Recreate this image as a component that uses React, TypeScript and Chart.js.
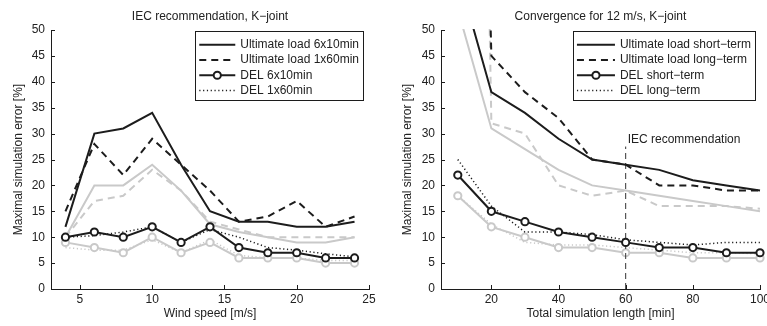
import React, { useEffect, useRef } from "react";
import { Chart, registerables } from "chart.js";

Chart.register(...registerables);

// ---------- Left chart data ----------
const leftTitle = "IEC recommendation, K\u2212joint";
const leftXLabel = "Wind speed [m/s]";
const windSpeed = [4, 6, 8, 10, 12, 14, 16, 18, 20, 22, 24];
const leftXTicks = [5, 10, 15, 20, 25];
const ultLoad6x10 = [12, 30, 31, 34, 24, 15, 13, 13, 12, 12, 13];
const ultLoad1x60 = [15, 28, 22, 29, 24, 19, 13, 14, 17, 12, 14];
const del6x10 = [10, 11, 10, 12, 9, 12, 8, 7, 7, 6, 6];
const del1x60 = [10, 10.3, 11, 12, 9, 11.5, 10, 8, 7.5, 6.8, 6.2];
const ultLoad6x10Grey = [10, 20, 20, 24, 19, 12.5, 11, 10, 9, 9, 10];
const ultLoad1x60Grey = [10, 17, 18, 23, 19, 13, 11.5, 10, 10, 10, 10];
const del6x10Grey = [9, 8, 7, 10, 7, 9, 6, 6, 6, 5, 5];
const del1x60Grey = [8, 7.5, 7.5, 9.5, 7, 9.5, 6.5, 6, 6, 5.5, 5.5];
const leftLabels = ["Ultimate load 6x10min", "Ultimate load 1x60min", "DEL 6x10min", "DEL 1x60min"];

// ---------- Right chart data ----------
const rightTitle = "Convergence for 12 m/s, K\u2212joint";
const rightXLabel = "Total simulation length [min]";
const simLength = [10, 20, 30, 40, 50, 60, 70, 80, 90, 100];
const rightXTicks = [20, 40, 60, 80, 100];
const ultShort = [61, 38, 34, 29, 25, 24, 23, 21, 20, 19];
const ultLong = [300, 45, 38, 33, 25, 24, 20, 20, 19, 19];
const delShort = [22, 15, 13, 11, 10, 9, 8, 8, 7, 7];
const delLong = [25, 16, 11, 11, 10.5, 9.5, 9, 8.5, 9, 9];
const ultShortGrey = [54, 31, 27, 23, 20, 19, 18, 17, 16, 15];
const ultLongGrey = [400, 32, 30, 20, 18, 19, 16, 16, 16, 15.5];
const delShortGrey = [18, 12, 10, 8, 8, 7, 7, 6, 6, 6];
const delLongGrey = [18, 12.5, 9, 8.5, 8.5, 8, 7.5, 7, 7, 6.8];
const rightLabels = ["Ultimate load short\u2212term", "Ultimate load long\u2212term", "DEL short\u2212term", "DEL long\u2212term"];
const iecX = 60;
const iecLineTop = 27.5;
const iecText = "IEC recommendation";
const iecTextY = 28.8;

const yLabel = "Maximal simulation error [%]";
const yTicks = [0, 5, 10, 15, 20, 25, 30, 35, 40, 45, 50];

const FONT = "'Liberation Sans', Arial, Helvetica, sans-serif";
const BLACK = "#1c1c1c";
const GREY = "#c9c9c9";
const TEXT = "#222222";

function pts(xs: number[], ys: number[]) {
  return xs.map((x, i) => ({ x, y: ys[i] }));
}

function styled(label: string, data: any[], color: string, kind: string) {
  const base: any = {
    label,
    data,
    borderColor: color,
    backgroundColor: color,
    borderWidth: 2,
    pointRadius: 0,
    tension: 0,
    clip: { left: 6, right: 8, top: 1, bottom: 6 },
  };
  if (kind === "dash") base.borderDash = [7, 5];
  if (kind === "dot") {
    base.borderDash = [1.2, 2.6];
    base.borderWidth = 1.5;
  }
  if (kind === "circle") {
    base.pointRadius = 3.6;
    base.pointBorderWidth = 2;
    base.pointBackgroundColor = "#ffffff";
    base.pointBorderColor = color;
  }
  return base;
}

const decorPlugin = {
  id: "decor",
  afterDraw(chart: any) {
    const o = chart.options.plugins.decor;
    const ctx = chart.ctx;
    const ca = chart.chartArea;
    const xs = chart.scales.x;
    const ys = chart.scales.y;
    ctx.save();
    // inward tick marks
    ctx.strokeStyle = BLACK;
    ctx.lineWidth = 1;
    ctx.beginPath();
    xs.ticks.forEach((t: any) => {
      const px = Math.round(xs.getPixelForValue(t.value)) + 0.5;
      ctx.moveTo(px, ca.bottom);
      ctx.lineTo(px, ca.bottom - 4);
    });
    ys.ticks.forEach((t: any) => {
      const py = Math.round(ys.getPixelForValue(t.value)) + 0.5;
      ctx.moveTo(ca.left, py);
      ctx.lineTo(ca.left + 4, py);
    });
    ctx.stroke();

    // title
    ctx.fillStyle = TEXT;
    ctx.font = `12px ${FONT}`;
    ctx.textAlign = "center";
    ctx.textBaseline = "middle";
    ctx.fillText(o.title, (ca.left + ca.right) / 2, 17);

    // annotation text
    if (o.annoText) {
      ctx.textAlign = "left";
      ctx.fillText(o.annoText, xs.getPixelForValue(o.annoX) + 2, ys.getPixelForValue(o.annoY));
    }

    // legend
    const n = o.legendCount;
    const ds = chart.data.datasets.slice(0, n);
    ctx.font = `12px ${FONT}`;
    let maxW = 0;
    ds.forEach((d: any) => {
      maxW = Math.max(maxW, ctx.measureText(d.label).width);
    });
    const sampleLen = o.sampleLen;
    const boxW = 4 + sampleLen + 5 + maxW + 4;
    const boxRight = ca.right - o.boxInset;
    const boxLeft = boxRight - boxW;
    const boxTop = ca.top + 1;
    const rowH = 15.3;
    const boxH = 8 + rowH * n;
    ctx.fillStyle = "#ffffff";
    ctx.fillRect(boxLeft, boxTop, boxW, boxH);
    ctx.strokeStyle = BLACK;
    ctx.lineWidth = 1;
    ctx.setLineDash([]);
    ctx.strokeRect(Math.round(boxLeft) + 0.5, Math.round(boxTop) + 0.5, Math.round(boxW), Math.round(boxH));
    ds.forEach((d: any, i: number) => {
      const y = boxTop + 6 + rowH * (i + 0.5);
      const x1 = boxLeft + 4;
      const x2 = x1 + sampleLen;
      ctx.strokeStyle = d.borderColor;
      ctx.lineWidth = d.borderWidth;
      ctx.setLineDash(d.borderDash || []);
      ctx.beginPath();
      ctx.moveTo(x1, y);
      ctx.lineTo(x2, y);
      ctx.stroke();
      ctx.setLineDash([]);
      if (d.pointRadius > 0) {
        ctx.beginPath();
        ctx.arc((x1 + x2) / 2, y, d.pointRadius, 0, Math.PI * 2);
        ctx.fillStyle = "#ffffff";
        ctx.fill();
        ctx.lineWidth = d.pointBorderWidth;
        ctx.strokeStyle = d.pointBorderColor;
        ctx.stroke();
      }
      ctx.fillStyle = TEXT;
      ctx.textAlign = "left";
      ctx.textBaseline = "middle";
      ctx.fillText(d.label, x2 + 5, y);
    });
    ctx.restore();
  },
};

function makeOptions(p: any) {
  return {
    responsive: false,
    maintainAspectRatio: false,
    animation: false as const,
    devicePixelRatio: 1,
    layout: { padding: { top: 30, right: p.padRight, left: 0, bottom: 0 } },
    plugins: {
      legend: { display: false },
      title: { display: false },
      tooltip: { enabled: false },
      decor: p.decor,
    },
    scales: {
      x: {
        type: "linear",
        min: p.xMin,
        max: p.xMax,
        grid: { display: false, drawTicks: false },
        border: { display: true, color: BLACK, width: 1 },
        ticks: {
          color: TEXT,
          font: { size: 12, family: FONT },
          padding: 3,
          autoSkip: false,
          maxRotation: 0,
          callback: (v: any) => String(v),
        },
        afterBuildTicks: (s: any) => {
          s.ticks = p.xTicks.map((v: number) => ({ value: v }));
        },
        afterFit: (s: any) => {
          s.height = 37;
          s.paddingLeft = 0;
          s.paddingRight = 0;
        },
        title: {
          display: true,
          text: p.xLabel,
          color: TEXT,
          font: { size: 12, family: FONT },
          padding: { top: 0, bottom: 5 },
        },
      },
      y: {
        type: "linear",
        min: 0,
        max: 50,
        grid: { display: false, drawTicks: false },
        border: { display: true, color: BLACK, width: 1 },
        ticks: {
          color: TEXT,
          font: { size: 12, family: FONT },
          padding: 6,
          autoSkip: false,
          callback: (v: any) => String(v),
        },
        afterBuildTicks: (s: any) => {
          s.ticks = yTicks.map((v: number) => ({ value: v }));
        },
        afterFit: (s: any) => {
          s.width = p.yWidth;
          s.paddingTop = 0;
          s.paddingBottom = 0;
        },
        title: {
          display: true,
          text: yLabel,
          color: TEXT,
          font: { size: 12, family: FONT },
          padding: { top: p.yTitlePad, bottom: 0 },
        },
      },
    },
  };
}

function LeftChart() {
  const ref = useRef<HTMLCanvasElement | null>(null);
  useEffect(() => {
    if (!ref.current) return;
    const chart = new Chart(ref.current, {
      type: "line",
      data: {
        datasets: [
          styled(leftLabels[0], pts(windSpeed, ultLoad6x10), BLACK, "solid"),
          styled(leftLabels[1], pts(windSpeed, ultLoad1x60), BLACK, "dash"),
          styled(leftLabels[2], pts(windSpeed, del6x10), BLACK, "circle"),
          styled(leftLabels[3], pts(windSpeed, del1x60), BLACK, "dot"),
          styled(leftLabels[0] + " (ref)", pts(windSpeed, ultLoad6x10Grey), GREY, "solid"),
          styled(leftLabels[1] + " (ref)", pts(windSpeed, ultLoad1x60Grey), GREY, "dash"),
          styled(leftLabels[2] + " (ref)", pts(windSpeed, del6x10Grey), GREY, "circle"),
          styled(leftLabels[3] + " (ref)", pts(windSpeed, del1x60Grey), GREY, "dot"),
        ],
      },
      options: makeOptions({
        padRight: 15,
        xMin: 3,
        xMax: 25,
        xTicks: leftXTicks,
        xLabel: leftXLabel,
        yWidth: 51,
        yTitlePad: 11,
        decor: { title: leftTitle, legendCount: 4, sampleLen: 36, boxInset: 6 },
      }) as any,
      plugins: [decorPlugin],
    });
    return () => chart.destroy();
  }, []);
  return <canvas ref={ref} width={384} height={326} style={{ position: "absolute", left: 0, top: 0 }} />;
}

function RightChart() {
  const ref = useRef<HTMLCanvasElement | null>(null);
  useEffect(() => {
    if (!ref.current) return;
    const iecLine = {
      label: "IEC line",
      data: [
        { x: iecX, y: 0 },
        { x: iecX, y: iecLineTop },
      ],
      borderColor: "#333333",
      borderWidth: 1,
      borderDash: [6, 4],
      pointRadius: 0,
    };
    const chart = new Chart(ref.current, {
      type: "line",
      data: {
        datasets: [
          styled(rightLabels[0], pts(simLength, ultShort), BLACK, "solid"),
          styled(rightLabels[1], pts(simLength, ultLong), BLACK, "dash"),
          styled(rightLabels[2], pts(simLength, delShort), BLACK, "circle"),
          styled(rightLabels[3], pts(simLength, delLong), BLACK, "dot"),
          iecLine,
          styled(rightLabels[0] + " (ref)", pts(simLength, ultShortGrey), GREY, "solid"),
          styled(rightLabels[1] + " (ref)", pts(simLength, ultLongGrey), GREY, "dash"),
          styled(rightLabels[2] + " (ref)", pts(simLength, delShortGrey), GREY, "circle"),
          styled(rightLabels[3] + " (ref)", pts(simLength, delLongGrey), GREY, "dot"),
        ],
      },
      options: makeOptions({
        padRight: 7,
        xMin: 5,
        xMax: 100,
        xTicks: rightXTicks,
        xLabel: rightXLabel,
        yWidth: 57,
        yTitlePad: 16,
        decor: {
          title: rightTitle,
          legendCount: 4,
          sampleLen: 38,
          boxInset: 5,
          annoText: iecText,
          annoX: iecX,
          annoY: iecTextY,
        },
      }) as any,
      plugins: [decorPlugin],
    });
    return () => chart.destroy();
  }, []);
  return <canvas ref={ref} width={383} height={326} style={{ position: "absolute", left: 384, top: 0 }} />;
}

export default function App() {
  return (
    <div style={{ position: "absolute", left: 0, top: 0, width: 767, height: 326, background: "#ffffff", overflow: "hidden" }}>
      <LeftChart />
      <RightChart />
    </div>
  );
}
